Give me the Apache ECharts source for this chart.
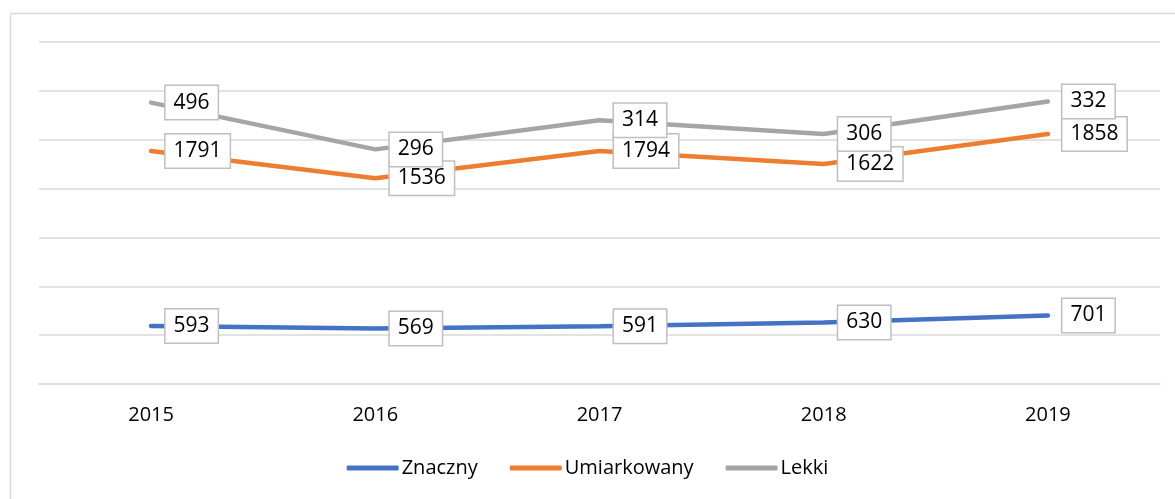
<!DOCTYPE html>
<html>
<head>
<meta charset="utf-8">
<script src="https://cdn.jsdelivr.net/npm/echarts@6/dist/echarts.min.js"></script>
<style>
  html, body { margin: 0; padding: 0; background: #fff; }
  #chart { width: 1175px; height: 499px; }
</style>
</head>
<body>
<div id="chart"></div>
<script>
const years = ['2015', '2016', '2017', '2018', '2019']
const znaczny = [593, 569, 591, 630, 701]
const umiarkowany = [1791, 1536, 1794, 1622, 1858]
const lekki = [496, 296, 314, 306, 332]

const font = 'Open Sans'

// wspolny styl etykiet danych (biale pudelko z szara ramka)
function labelStyle() {
  return {
    show: true,
    position: 'right',
    distance: 14,
    color: '#000',
    fontFamily: font,
    fontSize: 21,
    backgroundColor: '#fff',
    borderColor: '#bfbfbf',
    borderWidth: 1.5,
    padding: [7, 8, 5, 8]
  }
}

function makeSeries(name, data, color) {
  return {
    name: name,
    type: 'line',
    stack: 'total',
    data: data,
    symbol: 'circle',
    symbolSize: 1,
    showSymbol: true,
    lineStyle: { width: 4.5, color: color, cap: 'round' },
    itemStyle: { color: color },
    label: labelStyle(),
    emphasis: { disabled: true },
    animation: false
  }
}

const chart = echarts.init(document.getElementById('chart'))
chart.setOption({
  color: ['#4472C4', '#ED7D31', '#A5A5A5'],
  graphic: [{
    type: 'rect',
    shape: { x: 10.5, y: 13.5, width: 1300, height: 600 },
    style: { fill: 'none', stroke: '#d9d9d9', lineWidth: 1.5 },
    silent: true
  }],
  grid: { left: 39, right: 15, top: 42, bottom: 115 },
  legend: {
    bottom: 16,
    itemGap: 32,
    itemWidth: 52,
    itemHeight: 5,
    icon: 'roundRect',
    textStyle: { fontFamily: font, fontSize: 20, color: '#000', padding: [0, 0, 0, -2] },
    data: ['Znaczny', 'Umiarkowany', 'Lekki']
  },
  xAxis: {
    type: 'category',
    data: years,
    boundaryGap: true,
    axisTick: { show: false },
    axisLine: { lineStyle: { color: '#d9d9d9', width: 1.5 } },
    axisLabel: { color: '#000', fontFamily: font, fontSize: 20, margin: 21 }
  },
  yAxis: {
    type: 'value',
    min: 0,
    max: 3500,
    interval: 500,
    axisLabel: { show: false },
    axisLine: { show: false },
    axisTick: { show: false },
    splitLine: { lineStyle: { color: '#d9d9d9', width: 1.5 } }
  },
  series: [
    makeSeries('Znaczny', znaczny, '#4472C4'),
    makeSeries('Umiarkowany', umiarkowany, '#ED7D31'),
    makeSeries('Lekki', lekki, '#A5A5A5')
  ]
})
</script>
</body>
</html>
